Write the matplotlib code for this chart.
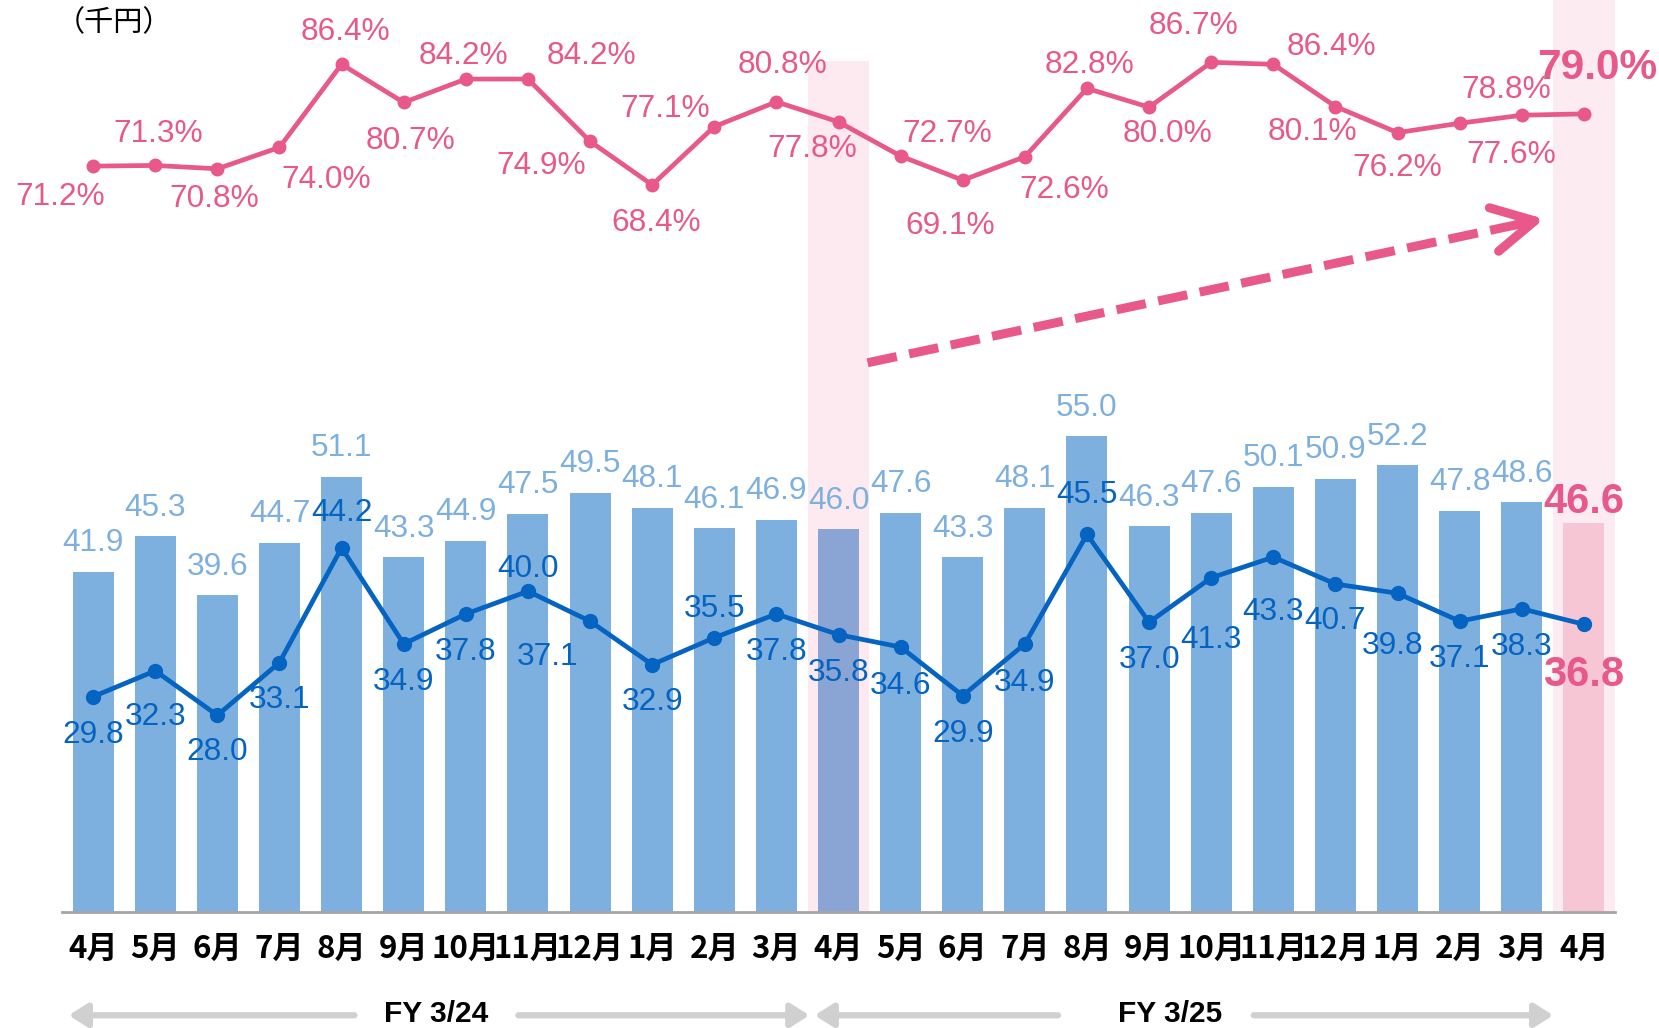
import matplotlib
matplotlib.use('Agg')
import matplotlib.pyplot as plt
from matplotlib.lines import Line2D
from matplotlib.patches import FancyArrowPatch

# ---------------- data ----------------
months = ['4月', '5月', '6月', '7月', '8月', '9月', '10月', '11月', '12月', '1月', '2月', '3月',
          '4月', '5月', '6月', '7月', '8月', '9月', '10月', '11月', '12月', '1月', '2月', '3月', '4月']
bar_values = [41.9, 45.3, 39.6, 44.7, 51.1, 43.3, 44.9, 47.5, 49.5, 48.1, 46.1, 46.9,
              46.0, 47.6, 43.3, 48.1, 55.0, 46.3, 47.6, 50.1, 50.9, 52.2, 47.8, 48.6, 46.6]
line_values = [29.8, 32.3, 28.0, 33.1, 44.2, 34.9, 37.8, 40.0, 37.1, 32.9, 35.5, 37.8,
               35.8, 34.6, 29.9, 34.9, 45.5, 37.0, 41.3, 43.3, 40.7, 39.8, 37.1, 38.3, 36.8]
pct_values = [71.2, 71.3, 70.8, 74.0, 86.4, 80.7, 84.2, 84.2, 74.9, 68.4, 77.1, 80.8,
              77.8, 72.7, 69.1, 72.6, 82.8, 80.0, 86.7, 86.4, 80.1, 76.2, 77.6, 78.8, 79.0]
fiscal_years = ['FY 3/24', 'FY 3/25']
unit_label = '（千円）'

# label placements (reference pixels, +dy = downward)
pct_offsets = [(-31, 29), (3, -30), (-3, 29), (44, 31), (4, -31), (6, 36), (-2, -22), (60, -22),
               (-46, 23), (4, 36), (-46, -17), (6, -35), (-25, 26), (44, -21), (-12, 43), (37, 31),
               (2, -22), (17, 25), (-17, -34), (55, -16), (-22, 24), (0, 33), (49, 30), (-15, -24),
               (13, -43)]
line_offsets = [(0, 36), (0, 44), (0, 35), (0, 35), (0, -33), (0, 36), (0, 36), (0, -21),
                (-40, 34), (0, 35), (0, -27), (0, 36), (0, 36), (0, 37), (0, 36), (0, 37),
                (0, -37), (0, 36), (0, 59), (0, 52), (0, 35), (-5, 50), (0, 36), (0, 36), (0, 48)]

# ---------------- style ----------------
PINK = '#E8588A'
DARK = '#0563C1'
BAR = '#7EB0DF'
BAR_LAST = '#F7C6D5'
HL = '#FCEBF1'
SW, SH = 1568.0, 972.0
S = 1659.0 / SW
FS = 22.8


def fx(x):
    return x / SW


def fy(y):
    return 1 - y / SH


plt.rcParams['font.family'] = ['Liberation Sans', 'Noto Sans CJK JP', 'DejaVu Sans']

fig = plt.figure(figsize=(16.59, 10.28), dpi=100)
left, right, base = 58.65, 1526.4, 862.0
ax = fig.add_axes([fx(left), fy(base), fx(right) - fx(left), 1 - fy(base)])
ax2 = ax.twinx()

n = len(months)
x = list(range(n))

ax.set_xlim(-0.5, n - 0.5)
ax.set_ylim(9.0, 97.2)
ax2.set_ylim(-40.1, 96.0)

# highlights
ax.axvspan(n - 1.5, n - 0.5, ymin=0, ymax=1, color=HL, lw=0, zorder=0.5)
bar_colors = [BAR] * (n - 1) + [BAR_LAST]
ax.bar(x, bar_values, width=0.66, color=bar_colors, zorder=1)
ax.axvspan(11.51, 12.49, ymin=0, ymax=(base - 58) / base, color=PINK, alpha=0.12, lw=0, zorder=2)

ax.plot(x, line_values, color=DARK, lw=3.4, marker='o', ms=10, zorder=3)
ax2.plot(x, pct_values, color=PINK, lw=3.4, marker='o', ms=9, zorder=3)

# bar labels
for i, v in enumerate(bar_values):
    last = i == n - 1
    ax.annotate(f'{v:.1f}', (i, v), xytext=(0, (20 if last else 27) * S), textcoords='offset pixels',
                ha='center', va='center', fontsize=30 if last else FS,
                fontweight='bold' if last else 'normal', color=PINK if last else BAR, zorder=4)

# line labels
for i, v in enumerate(line_values):
    last = i == n - 1
    dx, dy = line_offsets[i]
    ax.annotate(f'{v:.1f}', (i, v), xytext=(dx * S, -dy * S), textcoords='offset pixels',
                ha='center', va='center', fontsize=30 if last else FS,
                fontweight='bold' if last else 'normal', color=PINK if last else DARK, zorder=4)

# pct labels
for i, v in enumerate(pct_values):
    last = i == n - 1
    dx, dy = pct_offsets[i]
    ax2.annotate(f'{v:.1f}%', (i, v), xytext=(dx * S, -dy * S), textcoords='offset pixels',
                 ha='center', va='center', fontsize=30.5 if last else FS,
                 fontweight='bold' if last else 'normal', color=PINK, zorder=4)

# axes cosmetics
for a in (ax, ax2):
    for s in ('top', 'right', 'left'):
        a.spines[s].set_visible(False)
ax2.spines['bottom'].set_visible(False)
ax.spines['bottom'].set_color('#A6A6A6')
ax.spines['bottom'].set_linewidth(2)
ax.set_yticks([])
ax2.set_yticks([])
ax.set_xticks(x)
ax.set_xticklabels(months, fontsize=22.5, fontweight='bold',
                   family=['Liberation Sans Narrow', 'Noto Sans CJK JP'])
for lab in ax.get_xticklabels():
    lab.set_va('center')
ax.tick_params(axis='x', length=0, pad=26.5)

# unit label
fig.text(fx(108), fy(22), unit_label, ha='center', va='center', fontsize=21,
         family=['Noto Sans CJK JP'])

# trend arrow (dashed)
fig.add_artist(Line2D([fx(820), fx(1445)], [fy(343), fy(210)], transform=fig.transFigure,
                      color=PINK, lw=6.5, linestyle=(0, (3.3, 1.4)), solid_capstyle='butt',
                      dash_capstyle='butt'))
fig.add_artist(FancyArrowPatch((fx(1430), fy(213.2)), (fx(1462), fy(206.4)),
                               transform=fig.transFigure,
                               arrowstyle='->,head_length=1.5,head_width=0.8',
                               mutation_scale=20, color=PINK, lw=6.5,
                               capstyle='round', joinstyle='round'))

# fiscal-year arrows
GRAY = '#D0D0D0'
ya = fy(960)
fy_specs = [(fiscal_years[0], 412, (335, 65), (490, 765)),
            (fiscal_years[1], 1106, (1000, 770), (1185, 1468))]
for label, cx, (a0, a1), (b0, b1) in fy_specs:
    fig.text(fx(cx), fy(959), label, ha='center', va='center', fontsize=21.5, fontweight='bold',
             family=['Liberation Sans Narrow', 'Liberation Sans'])
    for s0, s1 in ((a0, a1), (b0, b1)):
        fig.add_artist(FancyArrowPatch((fx(s0), ya), (fx(s1), ya), transform=fig.transFigure,
                                       arrowstyle='-|>,head_length=0.55,head_width=0.35',
                                       mutation_scale=20, color=GRAY, lw=4.5,
                                       shrinkA=0, shrinkB=0))

fig.savefig('out.png', dpi=100)
